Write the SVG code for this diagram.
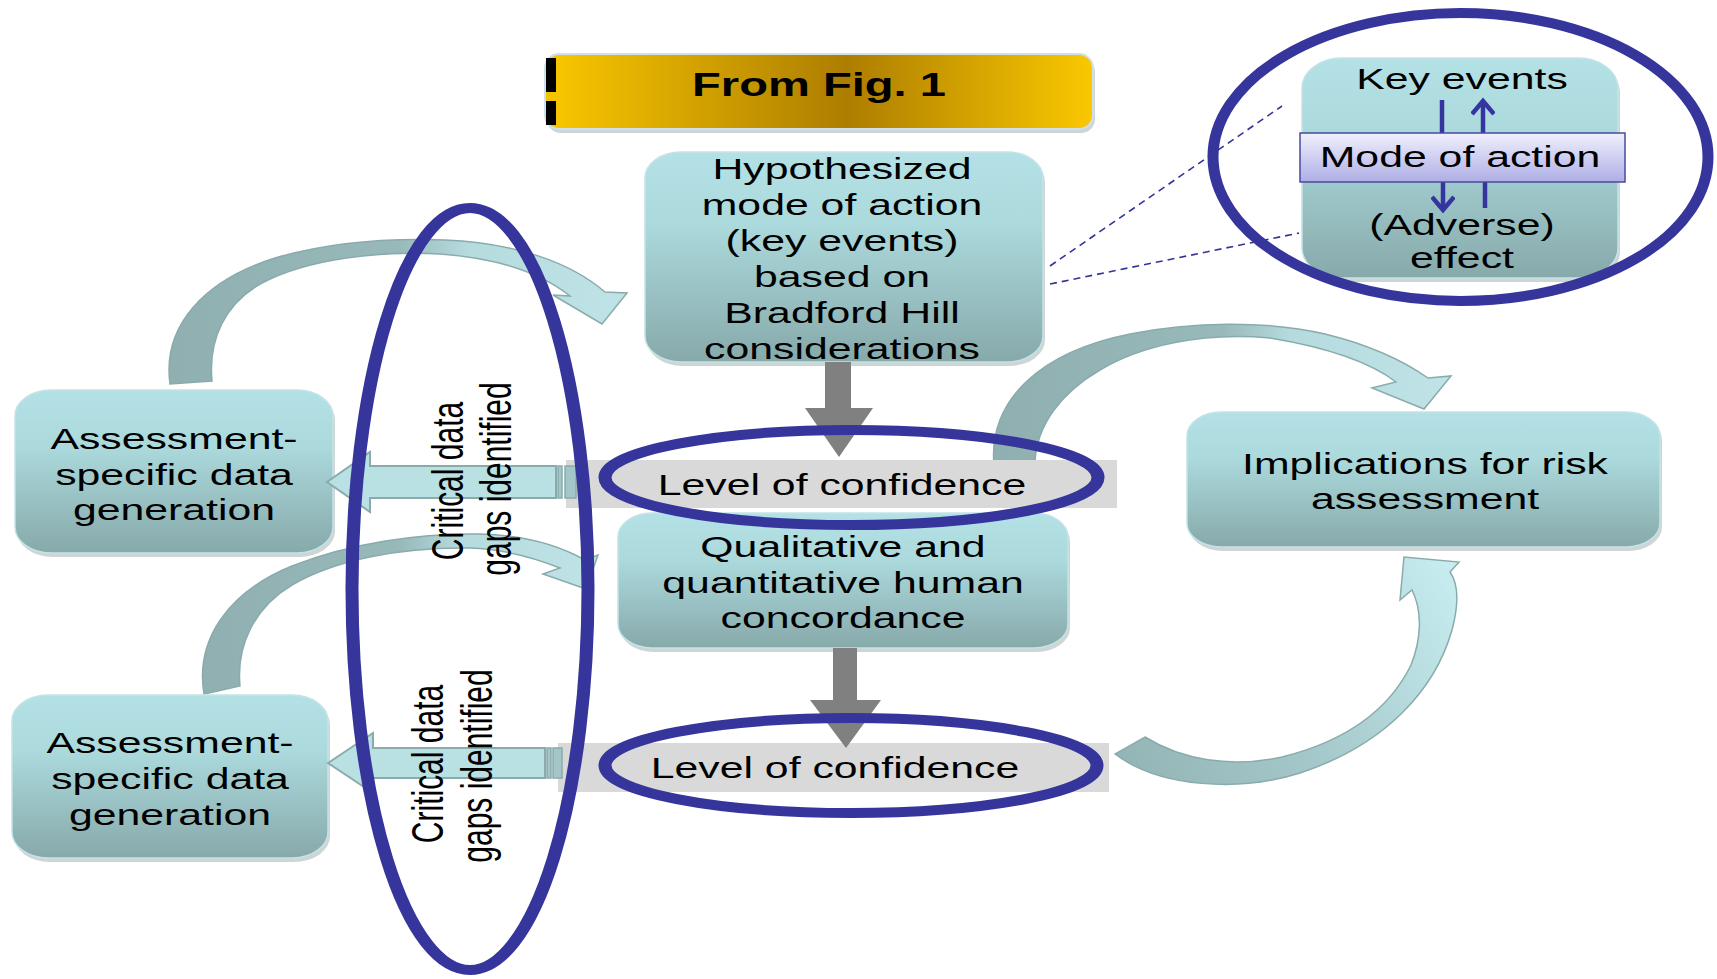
<svg xmlns="http://www.w3.org/2000/svg" width="1717" height="979" viewBox="0 0 1717 979">
  <defs>
    <linearGradient id="boxFill" x1="0" y1="0" x2="0" y2="1">
      <stop offset="0" stop-color="#b3e1e5"/>
      <stop offset="0.35" stop-color="#abd9dc"/>
      <stop offset="1" stop-color="#87a9aa"/>
    </linearGradient>
    <linearGradient id="bannerFill" x1="0" y1="0" x2="1" y2="0">
      <stop offset="0" stop-color="#fac800"/>
      <stop offset="0.55" stop-color="#ad7d00"/>
      <stop offset="1" stop-color="#fac800"/>
    </linearGradient>
    <linearGradient id="moaFill" x1="0" y1="0" x2="0" y2="1">
      <stop offset="0" stop-color="#f0f0fd"/>
      <stop offset="1" stop-color="#aeaee6"/>
    </linearGradient>
    <linearGradient id="curveA" gradientUnits="userSpaceOnUse" x1="170" y1="0" x2="627" y2="0">
      <stop offset="0" stop-color="#8fafb0"/>
      <stop offset="0.5" stop-color="#98b9ba"/>
      <stop offset="0.65" stop-color="#b6dbde"/>
      <stop offset="1" stop-color="#bfe3e6"/>
    </linearGradient>
    <linearGradient id="curveB" gradientUnits="userSpaceOnUse" x1="200" y1="0" x2="600" y2="0">
      <stop offset="0" stop-color="#8fafb0"/>
      <stop offset="0.5" stop-color="#98b9ba"/>
      <stop offset="0.65" stop-color="#b6dbde"/>
      <stop offset="1" stop-color="#bfe3e6"/>
    </linearGradient>
    <linearGradient id="curveC" gradientUnits="userSpaceOnUse" x1="994" y1="0" x2="1451" y2="0">
      <stop offset="0" stop-color="#8fafb0"/>
      <stop offset="0.5" stop-color="#98b9ba"/>
      <stop offset="0.65" stop-color="#b6dbde"/>
      <stop offset="1" stop-color="#bfe3e6"/>
    </linearGradient>
    <linearGradient id="curveD" gradientUnits="userSpaceOnUse" x1="1115" y1="770" x2="1455" y2="560">
      <stop offset="0" stop-color="#93b4b5"/>
      <stop offset="0.45" stop-color="#a5c8ca"/>
      <stop offset="1" stop-color="#c8eef1"/>
    </linearGradient>
    <marker id="vhead" viewBox="0 0 24 24" refX="20" refY="12" markerWidth="24" markerHeight="24" markerUnits="userSpaceOnUse" orient="auto">
      <path d="M7,1 L20,12 L7,23" fill="none" stroke="#35359f" stroke-width="4.5"/>
    </marker>
    <style>
      .box { fill: url(#boxFill); stroke: #c3e4e6; stroke-width: 1.5; }
      .shadow { fill: #cfd4d4; }
      .lbl { font-family: "Liberation Sans", Arial, sans-serif; font-size: 29.5px; fill: #000; text-anchor: middle; }
      .vlbl { font-family: "Liberation Sans", Arial, sans-serif; font-size: 30px; fill: #000; text-anchor: middle; }
      .title { font-family: "Liberation Sans", Arial, sans-serif; font-size: 32.5px; font-weight: bold; fill: #000; text-anchor: middle; }
      .hl { fill: none; stroke: #35359b; stroke-width: 10; }
      .band { fill: #d9d9d9; }
      .gray-arrow { fill: #808080; }
      .side-arrow { fill: #b9e0e3; stroke: #8aabab; stroke-width: 2; }
      .stripe { fill: #a3c6c8; stroke: #8aabab; stroke-width: 1.5; }
      .curve { stroke: #8aabab; stroke-width: 1.5; }
      .dash { fill: none; stroke: #33339a; stroke-width: 1.6; stroke-dasharray: 7 5; }
      .moa-line { fill: none; stroke: #35359f; stroke-width: 4.5; }
    </style>
  </defs>

  <rect width="1717" height="979" fill="#ffffff"/>

  <!-- curved feedback arrows, drawn beneath the boxes -->
  <g id="connectors-curved">
    <path class="curve" fill="url(#curveA)" d="M170,384 C162,325 205,280 275,258 C330,242 390,238 445,240 C515,243 570,262 605,292 L627,293 L602,324 L553,295 L570,296 C540,272 495,258 440,254 C380,251 310,258 262,283 C225,303 208,340 212,381 Z"/>
    <path class="curve" fill="url(#curveB)" d="M204,694 C195,640 228,592 292,566 C350,543 420,533 480,534 C525,535 560,546 585,560 L598,555 L586,589 L543,574 L560,568 C530,556 500,549 470,548 C400,547 335,560 292,585 C255,607 236,645 240,686 Z"/>
    <path class="curve" fill="url(#curveC)" d="M994,466 C988,400 1040,352 1130,334 C1190,322 1265,320 1325,334 C1370,345 1405,362 1428,378 L1451,376 L1424,409 L1372,388 L1396,382 C1370,362 1330,348 1270,338 C1200,332 1140,346 1100,370 C1062,392 1036,425 1035,463 Z"/>
    <path class="curve" fill="url(#curveD)" d="M1115,754 C1160,788 1240,792 1300,773 C1385,745 1435,690 1452,630 C1460,600 1457,582 1450,572 L1459,562 L1404,557 L1400,600 L1412,590 C1423,612 1421,640 1411,665 C1388,712 1342,742 1282,757 C1230,768 1182,760 1145,737 Z"/>
  </g>

  <!-- title banner -->
  <g id="banner">
    <rect x="547" y="58" width="548" height="75" rx="14" fill="#cdd5d8"/>
    <rect x="545" y="54" width="548" height="75" rx="14" fill="url(#bannerFill)" stroke="#cfe0e6" stroke-width="2"/>
    <rect x="546" y="58" width="10" height="67" fill="#000"/>
    <rect x="546" y="92" width="10" height="9" fill="#f5c400"/>
    <g transform="translate(819 0) scale(1.45 1)">
      <text class="title" y="96">From Fig. 1</text>
    </g>
  </g>

  <!-- hypothesized mode of action -->
  <g id="node-hypothesis">
    <rect class="shadow" x="647" y="156" width="398" height="210" rx="36" ry="26"/>
    <rect class="box" x="645" y="152" width="398" height="210" rx="36" ry="26"/>
    <g transform="translate(842 0) scale(1.45 1)">
      <text class="lbl" y="179">Hypothesized</text>
      <text class="lbl" y="215">mode of action</text>
      <text class="lbl" y="251">(key events)</text>
      <text class="lbl" y="287">based on</text>
      <text class="lbl" y="323">Bradford Hill</text>
      <text class="lbl" y="359">considerations</text>
    </g>
  </g>

  <!-- mode of action inset -->
  <g id="node-moa-inset">
    <rect class="shadow" x="1304" y="62" width="316" height="220" rx="40" ry="30"/>
    <rect class="box" x="1302" y="58" width="316" height="220" rx="40" ry="30"/>
    <g transform="translate(1462 0) scale(1.45 1)">
      <text class="lbl" y="89">Key events</text>
    </g>
    <line class="moa-line" x1="1442" y1="100" x2="1442" y2="134"/>
    <line class="moa-line" x1="1483" y1="134" x2="1483" y2="101" marker-end="url(#vhead)"/>
    <line class="moa-line" x1="1443" y1="181" x2="1443" y2="210" marker-end="url(#vhead)"/>
    <line class="moa-line" x1="1485" y1="181" x2="1485" y2="208"/>
    <rect x="1300" y="133" width="325" height="49" fill="url(#moaFill)" stroke="#4a4a9c" stroke-width="1.5"/>
    <g transform="translate(1460 0) scale(1.45 1)">
      <text class="lbl" y="167">Mode of action</text>
    </g>
    <g transform="translate(1462 0) scale(1.45 1)">
      <text class="lbl" y="235">(Adverse)</text>
      <text class="lbl" y="268">effect</text>
    </g>
  </g>

  <!-- assessment-specific data generation (upper) -->
  <g id="node-data-gen-1">
    <rect class="shadow" x="17" y="394" width="318" height="163" rx="36" ry="26"/>
    <rect class="box" x="15" y="390" width="318" height="163" rx="36" ry="26"/>
    <g transform="translate(174 0) scale(1.45 1)">
      <text class="lbl" y="449">Assessment-</text>
      <text class="lbl" y="485">specific data</text>
      <text class="lbl" y="520">generation</text>
    </g>
  </g>

  <!-- assessment-specific data generation (lower) -->
  <g id="node-data-gen-2">
    <rect class="shadow" x="14" y="699" width="316" height="163" rx="36" ry="26"/>
    <rect class="box" x="12" y="695" width="316" height="163" rx="36" ry="26"/>
    <g transform="translate(170 0) scale(1.45 1)">
      <text class="lbl" y="753">Assessment-</text>
      <text class="lbl" y="789">specific data</text>
      <text class="lbl" y="825">generation</text>
    </g>
  </g>

  <!-- qualitative and quantitative human concordance -->
  <g id="node-concordance">
    <rect class="shadow" x="620" y="517" width="450" height="135" rx="34" ry="24"/>
    <rect class="box" x="618" y="513" width="450" height="135" rx="34" ry="24"/>
    <g transform="translate(843 0) scale(1.45 1)">
      <text class="lbl" y="557">Qualitative and</text>
      <text class="lbl" y="593">quantitative human</text>
      <text class="lbl" y="628">concordance</text>
    </g>
  </g>

  <!-- implications for risk assessment -->
  <g id="node-implications">
    <rect class="shadow" x="1189" y="416" width="473" height="135" rx="34" ry="24"/>
    <rect class="box" x="1187" y="412" width="473" height="135" rx="34" ry="24"/>
    <g transform="translate(1425 0) scale(1.45 1)">
      <text class="lbl" y="474">Implications for risk</text>
      <text class="lbl" y="509">assessment</text>
    </g>
  </g>

  <!-- level of confidence (upper) -->
  <g id="node-confidence-1">
    <rect class="band" x="566" y="460" width="551" height="48"/>
    <g transform="translate(842 0) scale(1.45 1)">
      <text class="lbl" y="495">Level of confidence</text>
    </g>
  </g>

  <!-- level of confidence (lower) -->
  <g id="node-confidence-2">
    <rect class="band" x="558" y="743" width="551" height="49"/>
    <g transform="translate(835 0) scale(1.45 1)">
      <text class="lbl" y="778">Level of confidence</text>
    </g>
  </g>

  <!-- straight connectors -->
  <g id="connectors">
    <polygon class="gray-arrow" points="825,362 851,362 851,408 873,408 839,457 805,408 825,408"/>
    <polygon class="gray-arrow" points="833,648 857,648 857,700 881,700 846,748 810,700 833,700"/>
    <polygon class="side-arrow" points="327,482 370,452 370,466 556,466 556,498 370,498 370,512"/>
    <rect class="stripe" x="558" y="466" width="4" height="32"/>
    <rect class="stripe" x="565" y="466" width="11" height="32"/>
    <polygon class="side-arrow" points="328,763 373,733 373,748 545,748 545,778 373,778 373,793"/>
    <rect class="stripe" x="547" y="748" width="4" height="30"/>
    <rect class="stripe" x="553" y="748" width="9" height="30"/>
    <line class="dash" x1="1050" y1="266" x2="1282" y2="106"/>
    <line class="dash" x1="1050" y1="284" x2="1299" y2="233"/>
  </g>

  <!-- data gap labels -->
  <g id="gap-labels">
    <g transform="translate(463 481) scale(1.45 1) rotate(-90)">
      <text class="vlbl">Critical data</text>
    </g>
    <g transform="translate(511 479) scale(1.45 1) rotate(-90)">
      <text class="vlbl">gaps identified</text>
    </g>
    <g transform="translate(443 764) scale(1.45 1) rotate(-90)">
      <text class="vlbl">Critical data</text>
    </g>
    <g transform="translate(492 766) scale(1.45 1) rotate(-90)">
      <text class="vlbl">gaps identified</text>
    </g>
  </g>

  <!-- highlight rings -->
  <g id="highlights">
    <ellipse class="hl" transform="scale(1.3 1)" cx="361.54" cy="589" rx="90.77" ry="381"/>
    <ellipse class="hl" transform="scale(1.3 1)" cx="655" cy="477.5" rx="189.62" ry="47.5"/>
    <ellipse class="hl" transform="scale(1.3 1)" cx="654.62" cy="765.5" rx="189.23" ry="47.5"/>
    <ellipse class="hl" transform="scale(1.1 1)" cx="1327.73" cy="157" rx="225" ry="144"/>
  </g>
</svg>
